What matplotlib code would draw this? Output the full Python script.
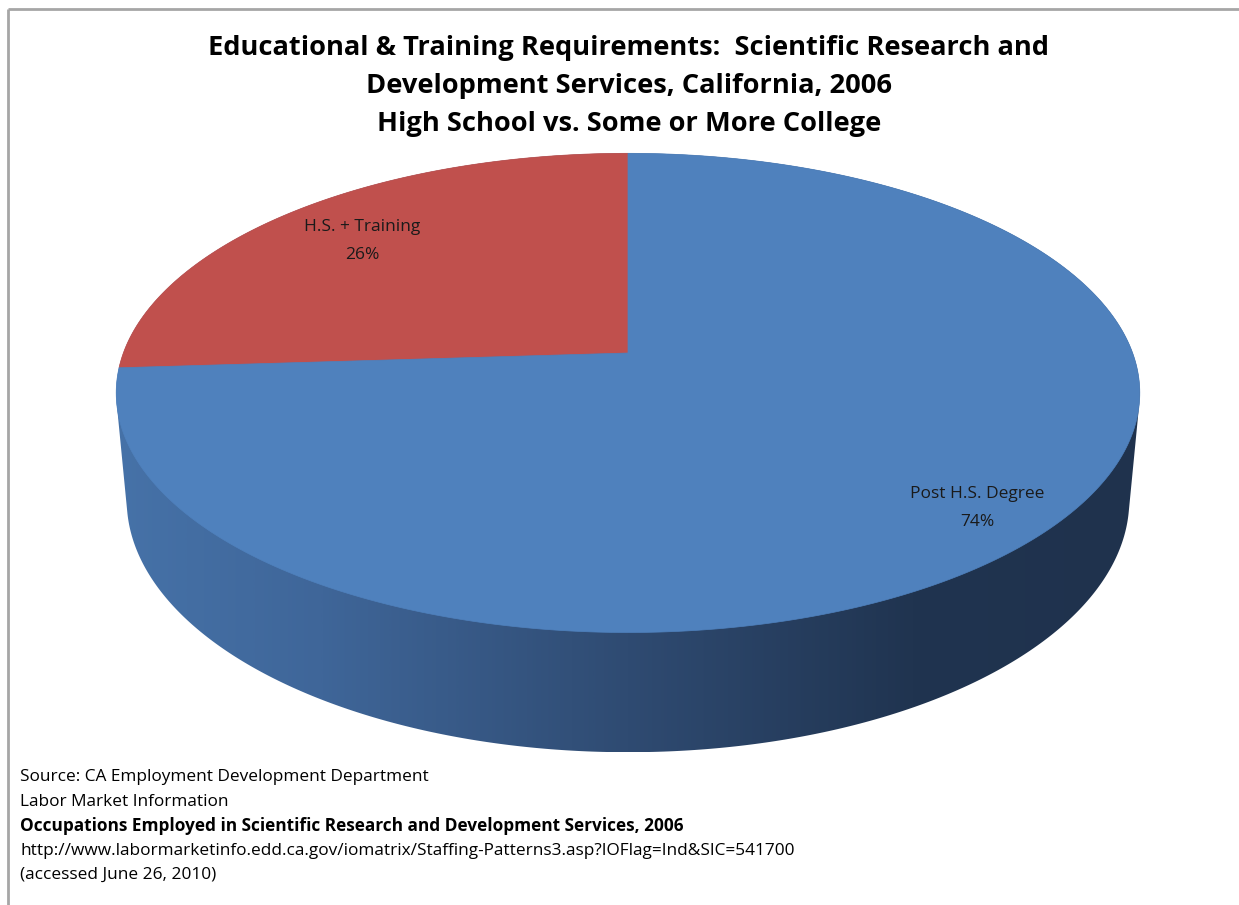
import numpy as np
import matplotlib
matplotlib.use("Agg")
import matplotlib.pyplot as plt
from matplotlib.patches import Polygon
from matplotlib.colors import LinearSegmentedColormap

# data
labels = ["H.S. + Training", "Post H.S. Degree"]
values = [26, 74]
colors = ["#c0504d", "#4f81bd"]
title = ("Educational & Training Requirements:  Scientific Research and\n"
         "Development Services, California, 2006\n"
         "High School vs. Some or More College")
source_lines = [
    ("Source: CA Employment Development Department", "normal"),
    ("Labor Market Information", "normal"),
    ("Occupations Employed in Scientific Research and Development Services, 2006", "bold"),
    ("http://www.labormarketinfo.edd.ca.gov/iomatrix/Staffing-Patterns3.asp?IOFlag=Ind&SIC=541700", "normal"),
    ("(accessed June 26, 2010)", "normal"),
]

# simple perspective camera for the 3-D disc (pixel space)
cx, cy = 628, 353
f, z0 = 2722.0, 5.34
fx = f * 0.99
tilt = np.arcsin(0.457)
s, c = np.sin(tilt), np.cos(tilt)
thick = 0.238


def project(t, y=0.0, r=1.0):
    x = r * np.cos(t)
    z = r * np.sin(t)
    D = z0 - y * s + z * c
    H = y * c + z * s
    return np.column_stack([cx + fx * x / D, cy - f * H / D])


def hull(pts):
    pts = sorted(map(tuple, pts))
    def cross(o, a, b):
        return (a[0] - o[0]) * (b[1] - o[1]) - (a[1] - o[1]) * (b[0] - o[0])
    lower, upper = [], []
    for p in pts:
        while len(lower) >= 2 and cross(lower[-2], lower[-1], p) <= 0:
            lower.pop()
        lower.append(p)
    for p in reversed(pts):
        while len(upper) >= 2 and cross(upper[-2], upper[-1], p) <= 0:
            upper.pop()
        upper.append(p)
    return np.array(lower[:-1] + upper[:-1])


fig = plt.figure(figsize=(12.39, 9.05), dpi=100)
ax = fig.add_axes([0, 0, 1, 1])
ax.set_xlim(0, 1239)
ax.set_ylim(905, 0)
ax.axis("off")

# frame lines (top and left)
ax.plot([8, 1239], [9.5, 9.5], color="#a6a6a6", lw=2, solid_capstyle="butt")
ax.plot([8, 8], [9.5, 905], color="#a6a6a6", lw=2, solid_capstyle="butt")

# side of the cylinder with a horizontal gradient
tt = np.linspace(0, 2 * np.pi, 721)
side = hull(np.vstack([project(tt, 0.0), project(tt, -thick)]))
side_patch = Polygon(side, closed=True, facecolor="none", edgecolor="none")
ax.add_patch(side_patch)
cmap = LinearSegmentedColormap.from_list(
    "side", [(0.0, "#4672a8"), (0.2, "#3f6699"), (0.5, "#2f4b72"),
             (0.78, "#203450"), (1.0, "#1f324d")])
grad = np.linspace(0, 1, 512).reshape(1, -1)
xmin, xmax = side[:, 0].min(), side[:, 0].max()
im = ax.imshow(grad, cmap=cmap, aspect="auto",
               extent=[xmin, xmax, side[:, 1].max(), side[:, 1].min()],
               zorder=1)
im.set_clip_path(side_patch)

# top face slices, starting at 12 o'clock going counter-clockwise
start = np.pi / 2
fracs = np.array(values, dtype=float) / sum(values)
for frac, col in zip(fracs, colors):
    end = start + frac * 2 * np.pi
    arc = project(np.linspace(start, end, 400), 0.0)
    pts = np.vstack([[cx, cy], arc])
    ax.add_patch(Polygon(pts, closed=True, facecolor=col, edgecolor=col,
                         lw=0.5, zorder=2))
    start = end

# data labels
label_pos = [(362, 241), (977, 508)]
for (lx, ly), lab, v in zip(label_pos, labels, values):
    ax.text(lx, ly, f"{lab}\n{v}%", ha="center", va="center", fontsize=12.5,
            family="Open Sans", color="#1a1a1a", linespacing=1.95, zorder=3)

ax.text(629, 86, title, ha="center", va="center", fontsize=19.6,
        family="Open Sans", weight="bold", linespacing=1.62, color="black")

for i, (line, w) in enumerate(source_lines):
    ax.text(20, 777 + i * 24.5, line, ha="left", va="center", fontsize=12.4,
            family="Open Sans", weight=w, color="black")

fig.savefig("out.png", dpi=100)
